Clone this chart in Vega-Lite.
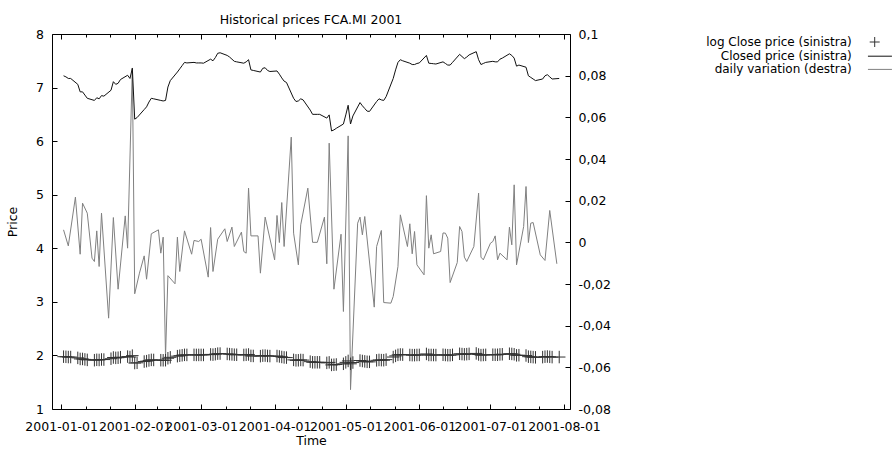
{
  "$schema": "https://vega.github.io/schema/vega-lite/v6.json",
  "width": 518,
  "height": 375,
  "autosize": {"type": "none"},
  "padding": {"left": 52, "top": 34, "right": 322, "bottom": 40},
  "config": {
    "font": "DejaVu Sans",
    "view": {"stroke": "#000", "strokeWidth": 1},
    "axis": {"domain": false, "grid": false, "labelFont": "DejaVu Sans", "labelFontSize": 12.5, "labelColor": "#000", "tickColor": "#000", "tickWidth": 1, "tickSize": -5, "titleFont": "DejaVu Sans", "titleFontSize": 12.5, "titleFontWeight": "normal", "titleColor": "#000", "labelOverlap": false, "labelFlush": false, "labelBound": false},
    "legend": {"orient": "none", "legendX": 816.7, "legendY": 2, "labelFont": "DejaVu Sans", "labelFontSize": 12, "labelColor": "#000", "labelAlign": "right", "labelOffset": -29, "labelLimit": 400, "symbolSize": 100, "symbolStrokeWidth": 1, "rowPadding": 1.2, "padding": 0, "symbolFillColor": "transparent"}
  },
  "title": {"text": "Historical prices FCA.MI 2001", "frame": "group", "anchor": "middle", "baseline": "alphabetic", "offset": -8, "font": "DejaVu Sans", "fontSize": 12.5, "fontWeight": "normal", "color": "#000"},
  "datasets": {
    "variation": [
      {"date": "2001-01-02", "variation": 0.006}, {"date": "2001-01-04", "variation": -0.0017}, {"date": "2001-01-07", "variation": 0.0217}, {"date": "2001-01-09", "variation": -0.0057}, {"date": "2001-01-10", "variation": 0.0188}, {"date": "2001-01-12", "variation": 0.014}, {"date": "2001-01-14", "variation": -0.0076}, {"date": "2001-01-15", "variation": -0.0092}, {"date": "2001-01-16", "variation": 0.0055}, {"date": "2001-01-17", "variation": -0.0116}, {"date": "2001-01-18", "variation": 0.014}, {"date": "2001-01-21", "variation": -0.0364}, {"date": "2001-01-23", "variation": 0.0119}, {"date": "2001-01-25", "variation": -0.0225}, {"date": "2001-01-28", "variation": 0.0127}, {"date": "2001-01-29", "variation": -0.0028}, {"date": "2001-01-31", "variation": 0.0837},
      {"date": "2001-02-01", "variation": -0.0247}, {"date": "2001-02-03", "variation": -0.0148}, {"date": "2001-02-05", "variation": -0.0065}, {"date": "2001-02-06", "variation": -0.0177}, {"date": "2001-02-08", "variation": 0.0041}, {"date": "2001-02-11", "variation": 0.006}, {"date": "2001-02-12", "variation": -0.0052}, {"date": "2001-02-13", "variation": 0.0025}, {"date": "2001-02-14", "variation": -0.0548}, {"date": "2001-02-15", "variation": -0.016}, {"date": "2001-02-18", "variation": -0.0199}, {"date": "2001-02-19", "variation": 0.0025}, {"date": "2001-02-20", "variation": -0.014}, {"date": "2001-02-22", "variation": 0.0055}, {"date": "2001-02-25", "variation": -0.0057}, {"date": "2001-02-26", "variation": 0.0009}, {"date": "2001-02-28", "variation": 0.0004},
      {"date": "2001-03-01", "variation": 0.0015}, {"date": "2001-03-04", "variation": -0.0167}, {"date": "2001-03-05", "variation": 0.0071}, {"date": "2001-03-06", "variation": -0.014}, {"date": "2001-03-08", "variation": 0.0015}, {"date": "2001-03-11", "variation": 0.0065}, {"date": "2001-03-12", "variation": 0.0004}, {"date": "2001-03-14", "variation": 0.0073}, {"date": "2001-03-15", "variation": -0.002}, {"date": "2001-03-18", "variation": 0.0049}, {"date": "2001-03-19", "variation": -0.0044}, {"date": "2001-03-20", "variation": -0.0052}, {"date": "2001-03-21", "variation": 0.026}, {"date": "2001-03-22", "variation": 0.0031}, {"date": "2001-03-25", "variation": 0.0031}, {"date": "2001-03-26", "variation": -0.0148}, {"date": "2001-03-28", "variation": 0.0121},
      {"date": "2001-04-01", "variation": -0.0084}, {"date": "2001-04-02", "variation": 0.0129}, {"date": "2001-04-03", "variation": -0.0001}, {"date": "2001-04-04", "variation": 0.0191}, {"date": "2001-04-05", "variation": -0.002}, {"date": "2001-04-08", "variation": 0.0505}, {"date": "2001-04-09", "variation": 0.0044}, {"date": "2001-04-11", "variation": -0.0108}, {"date": "2001-04-12", "variation": 0.0084}, {"date": "2001-04-15", "variation": 0.026}, {"date": "2001-04-17", "variation": 0}, {"date": "2001-04-19", "variation": 0}, {"date": "2001-04-22", "variation": 0.0121}, {"date": "2001-04-23", "variation": -0.0103}, {"date": "2001-04-24", "variation": 0.0476}, {"date": "2001-04-26", "variation": -0.0225}, {"date": "2001-04-29", "variation": 0.0039}, {"date": "2001-04-30", "variation": -0.0332},
      {"date": "2001-05-02", "variation": 0.0511}, {"date": "2001-05-03", "variation": -0.0707}, {"date": "2001-05-06", "variation": 0.0092}, {"date": "2001-05-07", "variation": 0.0121}, {"date": "2001-05-08", "variation": 0.0036}, {"date": "2001-05-09", "variation": 0.0124}, {"date": "2001-05-13", "variation": -0.0311}, {"date": "2001-05-14", "variation": -0.002}, {"date": "2001-05-16", "variation": 0.0057}, {"date": "2001-05-17", "variation": -0.0289}, {"date": "2001-05-20", "variation": -0.0292}, {"date": "2001-05-21", "variation": -0.026}, {"date": "2001-05-23", "variation": -0.0116}, {"date": "2001-05-24", "variation": 0.0132}, {"date": "2001-05-27", "variation": -0.002}, {"date": "2001-05-28", "variation": 0.0089}, {"date": "2001-05-29", "variation": -0.0055}, {"date": "2001-05-30", "variation": 0.0052}, {"date": "2001-05-31", "variation": -0.0108},
      {"date": "2001-06-03", "variation": -0.0156}, {"date": "2001-06-04", "variation": 0.0224}, {"date": "2001-06-05", "variation": -0.0028}, {"date": "2001-06-06", "variation": 0.0036}, {"date": "2001-06-07", "variation": -0.0055}, {"date": "2001-06-10", "variation": -0.0044}, {"date": "2001-06-11", "variation": 0.0045}, {"date": "2001-06-12", "variation": 0.0044}, {"date": "2001-06-13", "variation": 0.002}, {"date": "2001-06-14", "variation": -0.0193}, {"date": "2001-06-17", "variation": -0.0097}, {"date": "2001-06-18", "variation": 0.0076}, {"date": "2001-06-19", "variation": 0.0052}, {"date": "2001-06-20", "variation": -0.0071}, {"date": "2001-06-21", "variation": -0.0092}, {"date": "2001-06-24", "variation": -0.002}, {"date": "2001-06-26", "variation": 0.0236}, {"date": "2001-06-27", "variation": -0.0071}, {"date": "2001-06-28", "variation": -0.0084},
      {"date": "2001-07-01", "variation": -0.0004}, {"date": "2001-07-02", "variation": 0.0004}, {"date": "2001-07-03", "variation": 0.0031}, {"date": "2001-07-04", "variation": -0.0084}, {"date": "2001-07-05", "variation": -0.0052}, {"date": "2001-07-08", "variation": -0.0084}, {"date": "2001-07-09", "variation": 0.0073}, {"date": "2001-07-10", "variation": -0.0012}, {"date": "2001-07-11", "variation": 0.0276}, {"date": "2001-07-12", "variation": -0.0108}, {"date": "2001-07-15", "variation": 0.0076}, {"date": "2001-07-16", "variation": 0.0268}, {"date": "2001-07-17", "variation": -0.0001}, {"date": "2001-07-18", "variation": 0.0092}, {"date": "2001-07-19", "variation": 0.0095}, {"date": "2001-07-22", "variation": -0.006}, {"date": "2001-07-24", "variation": -0.0087}, {"date": "2001-07-26", "variation": 0.0153}, {"date": "2001-07-29", "variation": -0.0103}
    ],
    "prices": [
      {"date": "2001-01-02", "price": 7.22, "logprice": 1.9769}, {"date": "2001-01-03", "price": 7.2, "logprice": 1.9741}, {"date": "2001-01-04", "price": 7.17, "logprice": 1.9699}, {"date": "2001-01-05", "price": 7.17, "logprice": 1.9699},
      {"date": "2001-01-08", "price": 7.06, "logprice": 1.9544}, {"date": "2001-01-09", "price": 6.92, "logprice": 1.9344}, {"date": "2001-01-10", "price": 6.92, "logprice": 1.9344}, {"date": "2001-01-11", "price": 6.86, "logprice": 1.9257}, {"date": "2001-01-12", "price": 6.8, "logprice": 1.9169},
      {"date": "2001-01-15", "price": 6.76, "logprice": 1.911}, {"date": "2001-01-16", "price": 6.81, "logprice": 1.9184}, {"date": "2001-01-17", "price": 6.79, "logprice": 1.9154}, {"date": "2001-01-18", "price": 6.85, "logprice": 1.9242}, {"date": "2001-01-19", "price": 6.84, "logprice": 1.9228},
      {"date": "2001-01-22", "price": 6.95, "logprice": 1.9387}, {"date": "2001-01-23", "price": 7.11, "logprice": 1.9615}, {"date": "2001-01-24", "price": 7.06, "logprice": 1.9544}, {"date": "2001-01-25", "price": 7.08, "logprice": 1.9573}, {"date": "2001-01-26", "price": 7.15, "logprice": 1.9671},
      {"date": "2001-01-29", "price": 7.23, "logprice": 1.9783}, {"date": "2001-01-30", "price": 7.17, "logprice": 1.9699}, {"date": "2001-01-31", "price": 7.36, "logprice": 1.9961}, {"date": "2001-02-01", "price": 6.41, "logprice": 1.8579}, {"date": "2001-02-02", "price": 6.44, "logprice": 1.8625},
      {"date": "2001-02-05", "price": 6.59, "logprice": 1.8856}, {"date": "2001-02-06", "price": 6.64, "logprice": 1.8931}, {"date": "2001-02-07", "price": 6.73, "logprice": 1.9065}, {"date": "2001-02-08", "price": 6.8, "logprice": 1.9169}, {"date": "2001-02-09", "price": 6.79, "logprice": 1.9154},
      {"date": "2001-02-12", "price": 6.76, "logprice": 1.911}, {"date": "2001-02-13", "price": 6.75, "logprice": 1.9095}, {"date": "2001-02-14", "price": 6.76, "logprice": 1.911}, {"date": "2001-02-15", "price": 7.01, "logprice": 1.9473}, {"date": "2001-02-16", "price": 7.13, "logprice": 1.9643},
      {"date": "2001-02-19", "price": 7.29, "logprice": 1.9865}, {"date": "2001-02-20", "price": 7.35, "logprice": 1.9947}, {"date": "2001-02-21", "price": 7.41, "logprice": 2.0028}, {"date": "2001-02-22", "price": 7.47, "logprice": 2.0109}, {"date": "2001-02-23", "price": 7.46, "logprice": 2.0096},
      {"date": "2001-02-26", "price": 7.47, "logprice": 2.0109}, {"date": "2001-02-27", "price": 7.46, "logprice": 2.0096}, {"date": "2001-02-28", "price": 7.46, "logprice": 2.0096}, {"date": "2001-03-01", "price": 7.46, "logprice": 2.0096}, {"date": "2001-03-02", "price": 7.455, "logprice": 2.0089},
      {"date": "2001-03-05", "price": 7.53, "logprice": 2.0189}, {"date": "2001-03-06", "price": 7.5, "logprice": 2.0149}, {"date": "2001-03-07", "price": 7.56, "logprice": 2.0228}, {"date": "2001-03-08", "price": 7.64, "logprice": 2.0333}, {"date": "2001-03-09", "price": 7.65, "logprice": 2.0347},
      {"date": "2001-03-12", "price": 7.6, "logprice": 2.0281}, {"date": "2001-03-13", "price": 7.57, "logprice": 2.0241}, {"date": "2001-03-14", "price": 7.53, "logprice": 2.0189}, {"date": "2001-03-15", "price": 7.49, "logprice": 2.0136}, {"date": "2001-03-16", "price": 7.48, "logprice": 2.0122},
      {"date": "2001-03-19", "price": 7.455, "logprice": 2.0089}, {"date": "2001-03-20", "price": 7.48, "logprice": 2.0122}, {"date": "2001-03-21", "price": 7.52, "logprice": 2.0176}, {"date": "2001-03-22", "price": 7.33, "logprice": 1.992}, {"date": "2001-03-23", "price": 7.32, "logprice": 1.9906},
      {"date": "2001-03-26", "price": 7.29, "logprice": 1.9865}, {"date": "2001-03-27", "price": 7.36, "logprice": 1.9961}, {"date": "2001-03-28", "price": 7.37, "logprice": 1.9974}, {"date": "2001-03-29", "price": 7.32, "logprice": 1.9906}, {"date": "2001-03-30", "price": 7.3, "logprice": 1.9879},
      {"date": "2001-04-02", "price": 7.31, "logprice": 1.9892}, {"date": "2001-04-03", "price": 7.25, "logprice": 1.981}, {"date": "2001-04-04", "price": 7.18, "logprice": 1.9713}, {"date": "2001-04-05", "price": 7.12, "logprice": 1.9629}, {"date": "2001-04-06", "price": 7.095, "logprice": 1.9594},
      {"date": "2001-04-09", "price": 6.8, "logprice": 1.9169}, {"date": "2001-04-10", "price": 6.74, "logprice": 1.9081}, {"date": "2001-04-11", "price": 6.75, "logprice": 1.9095}, {"date": "2001-04-12", "price": 6.79, "logprice": 1.9154}, {"date": "2001-04-13", "price": 6.77, "logprice": 1.9125},
      {"date": "2001-04-16", "price": 6.58, "logprice": 1.884}, {"date": "2001-04-17", "price": 6.5, "logprice": 1.8718}, {"date": "2001-04-18", "price": 6.5, "logprice": 1.8718}, {"date": "2001-04-19", "price": 6.5, "logprice": 1.8718}, {"date": "2001-04-20", "price": 6.5, "logprice": 1.8718},
      {"date": "2001-04-23", "price": 6.43, "logprice": 1.861}, {"date": "2001-04-24", "price": 6.49, "logprice": 1.8703}, {"date": "2001-04-25", "price": 6.19, "logprice": 1.8229}, {"date": "2001-04-26", "price": 6.21, "logprice": 1.8261}, {"date": "2001-04-27", "price": 6.24, "logprice": 1.831},
      {"date": "2001-04-30", "price": 6.32, "logprice": 1.8436}, {"date": "2001-05-01", "price": 6.49, "logprice": 1.8703}, {"date": "2001-05-02", "price": 6.67, "logprice": 1.8976}, {"date": "2001-05-03", "price": 6.32, "logprice": 1.8436}, {"date": "2001-05-04", "price": 6.47, "logprice": 1.8672},
      {"date": "2001-05-07", "price": 6.72, "logprice": 1.9051}, {"date": "2001-05-08", "price": 6.66, "logprice": 1.8961}, {"date": "2001-05-09", "price": 6.61, "logprice": 1.8886}, {"date": "2001-05-10", "price": 6.56, "logprice": 1.881}, {"date": "2001-05-11", "price": 6.555, "logprice": 1.8802},
      {"date": "2001-05-14", "price": 6.74, "logprice": 1.9081}, {"date": "2001-05-15", "price": 6.79, "logprice": 1.9154}, {"date": "2001-05-16", "price": 6.77, "logprice": 1.9125}, {"date": "2001-05-17", "price": 6.76, "logprice": 1.911}, {"date": "2001-05-18", "price": 6.83, "logprice": 1.9213},
      {"date": "2001-05-21", "price": 7.17, "logprice": 1.9699}, {"date": "2001-05-22", "price": 7.33, "logprice": 1.992}, {"date": "2001-05-23", "price": 7.47, "logprice": 2.0109}, {"date": "2001-05-24", "price": 7.52, "logprice": 2.0176}, {"date": "2001-05-25", "price": 7.5, "logprice": 2.0149},
      {"date": "2001-05-28", "price": 7.455, "logprice": 2.0089}, {"date": "2001-05-29", "price": 7.43, "logprice": 2.0055}, {"date": "2001-05-30", "price": 7.43, "logprice": 2.0055}, {"date": "2001-05-31", "price": 7.45, "logprice": 2.0082}, {"date": "2001-06-01", "price": 7.46, "logprice": 2.0096},
      {"date": "2001-06-04", "price": 7.6, "logprice": 2.0281}, {"date": "2001-06-05", "price": 7.455, "logprice": 2.0089}, {"date": "2001-06-06", "price": 7.45, "logprice": 2.0082}, {"date": "2001-06-07", "price": 7.445, "logprice": 2.0075}, {"date": "2001-06-08", "price": 7.44, "logprice": 2.0069},
      {"date": "2001-06-11", "price": 7.48, "logprice": 2.0122}, {"date": "2001-06-12", "price": 7.45, "logprice": 2.0082}, {"date": "2001-06-13", "price": 7.42, "logprice": 2.0042}, {"date": "2001-06-14", "price": 7.42, "logprice": 2.0042}, {"date": "2001-06-15", "price": 7.47, "logprice": 2.0109},
      {"date": "2001-06-18", "price": 7.62, "logprice": 2.0307}, {"date": "2001-06-19", "price": 7.58, "logprice": 2.0255}, {"date": "2001-06-20", "price": 7.54, "logprice": 2.0202}, {"date": "2001-06-21", "price": 7.57, "logprice": 2.0241}, {"date": "2001-06-22", "price": 7.61, "logprice": 2.0294},
      {"date": "2001-06-25", "price": 7.67, "logprice": 2.0373}, {"date": "2001-06-26", "price": 7.52, "logprice": 2.0176}, {"date": "2001-06-27", "price": 7.43, "logprice": 2.0055}, {"date": "2001-06-28", "price": 7.45, "logprice": 2.0082}, {"date": "2001-06-29", "price": 7.47, "logprice": 2.0109},
      {"date": "2001-07-02", "price": 7.49, "logprice": 2.0136}, {"date": "2001-07-03", "price": 7.48, "logprice": 2.0122}, {"date": "2001-07-04", "price": 7.48, "logprice": 2.0122}, {"date": "2001-07-05", "price": 7.53, "logprice": 2.0189}, {"date": "2001-07-06", "price": 7.55, "logprice": 2.0215},
      {"date": "2001-07-09", "price": 7.63, "logprice": 2.032}, {"date": "2001-07-10", "price": 7.6, "logprice": 2.0281}, {"date": "2001-07-11", "price": 7.55, "logprice": 2.0215}, {"date": "2001-07-12", "price": 7.4, "logprice": 2.0015}, {"date": "2001-07-13", "price": 7.42, "logprice": 2.0042},
      {"date": "2001-07-16", "price": 7.38, "logprice": 1.9988}, {"date": "2001-07-17", "price": 7.22, "logprice": 1.9769}, {"date": "2001-07-18", "price": 7.19, "logprice": 1.9727}, {"date": "2001-07-19", "price": 7.16, "logprice": 1.9685}, {"date": "2001-07-20", "price": 7.13, "logprice": 1.9643},
      {"date": "2001-07-23", "price": 7.16, "logprice": 1.9685}, {"date": "2001-07-24", "price": 7.22, "logprice": 1.9769}, {"date": "2001-07-25", "price": 7.24, "logprice": 1.9796}, {"date": "2001-07-26", "price": 7.2, "logprice": 1.9741}, {"date": "2001-07-27", "price": 7.16, "logprice": 1.9685},
      {"date": "2001-07-30", "price": 7.17, "logprice": 1.9699}
    ]
  },
  "resolve": {"scale": {"y": "independent"}},
  "layer": [
    {
      "data": {"name": "variation"},
      "mark": {"type": "line", "strokeWidth": 1},
      "encoding": {
        "x": {"field": "date", "type": "temporal",
          "scale": {"type": "utc", "nice": false, "domain": [{"year": 2000, "month": 12, "date": 28, "hours": 3, "utc": true}, {"year": 2001, "month": 8, "date": 3, "hours": 13, "utc": true}]},
          "axis": {"orient": "bottom", "title": "Time", "titlePadding": 2, "tickSize": -5, "labelPadding": 16,
            "values": [{"year": 2001, "month": 1, "date": 1, "utc": true}, {"year": 2001, "month": 2, "date": 1, "utc": true}, {"year": 2001, "month": 3, "date": 1, "utc": true}, {"year": 2001, "month": 4, "date": 1, "utc": true}, {"year": 2001, "month": 5, "date": 1, "utc": true}, {"year": 2001, "month": 6, "date": 1, "utc": true}, {"year": 2001, "month": 7, "date": 1, "utc": true}, {"year": 2001, "month": 8, "date": 1, "utc": true}],
            "labelExpr": "utcFormat(datum.value, '%Y-%m-%d')"}},
        "y": {"field": "variation", "type": "quantitative",
          "scale": {"domain": [-0.08, 0.1], "nice": false, "zero": false},
          "axis": {"orient": "right", "title": null, "tickSize": -5, "labelPadding": 13,
            "values": [-0.08, -0.06, -0.04, -0.02, 0, 0.02, 0.04, 0.06, 0.08, 0.1],
            "labelExpr": "(datum.value < -0.00001 ? '-' : '') + replace(format(abs(datum.value), '.2~f'), '.', ',')"}},
        "color": {"datum": "daily variation  (destra)", "type": "nominal",
          "scale": {"domain": ["log Close price (sinistra)", "Closed price (sinistra)", "daily variation  (destra)"], "range": ["#333333", "#111111", "#808080"]},
          "legend": {"title": null}}
      }
    },
    {
      "data": {"name": "prices"},
      "mark": {"type": "line", "strokeWidth": 1},
      "encoding": {
        "x": {"field": "date", "type": "temporal",
          "scale": {"type": "utc", "nice": false, "domain": [{"year": 2000, "month": 12, "date": 28, "hours": 3, "utc": true}, {"year": 2001, "month": 8, "date": 3, "hours": 13, "utc": true}]},
          "axis": {"orient": "top", "title": null, "labels": false, "tickSize": -5,
            "values": [{"year": 2001, "month": 1, "date": 1, "utc": true}, {"year": 2001, "month": 2, "date": 1, "utc": true}, {"year": 2001, "month": 3, "date": 1, "utc": true}, {"year": 2001, "month": 4, "date": 1, "utc": true}, {"year": 2001, "month": 5, "date": 1, "utc": true}, {"year": 2001, "month": 6, "date": 1, "utc": true}, {"year": 2001, "month": 7, "date": 1, "utc": true}, {"year": 2001, "month": 8, "date": 1, "utc": true}]}},
        "y": {"field": "price", "type": "quantitative",
          "scale": {"domain": [1, 8], "nice": false, "zero": false},
          "axis": {"orient": "left", "title": "Price", "titlePadding": 16, "tickSize": -5, "labelPadding": 13.5, "values": [1, 2, 3, 4, 5, 6, 7, 8], "format": "d"}},
        "color": {"datum": "Closed price (sinistra)", "type": "nominal",
          "scale": {"domain": ["log Close price (sinistra)", "Closed price (sinistra)", "daily variation  (destra)"], "range": ["#333333", "#111111", "#808080"]},
          "legend": {"title": null}}
      }
    },
    {
      "data": {"name": "prices"},
      "mark": {"type": "point", "filled": false, "size": 156, "strokeWidth": 1, "opacity": 1},
      "encoding": {
        "x": {"field": "date", "type": "temporal",
          "scale": {"type": "utc", "nice": false, "domain": [{"year": 2000, "month": 12, "date": 28, "hours": 3, "utc": true}, {"year": 2001, "month": 8, "date": 3, "hours": 13, "utc": true}]},
          "axis": {"orient": "bottom", "title": null, "labels": false, "tickSize": -3,
            "values": [{"year": 2001, "month": 1, "date": 11, "hours": 8, "utc": true}, {"year": 2001, "month": 1, "date": 21, "hours": 16, "utc": true}, {"year": 2001, "month": 2, "date": 10, "hours": 8, "utc": true}, {"year": 2001, "month": 2, "date": 19, "hours": 16, "utc": true}, {"year": 2001, "month": 3, "date": 11, "hours": 8, "utc": true}, {"year": 2001, "month": 3, "date": 21, "hours": 16, "utc": true}, {"year": 2001, "month": 4, "date": 11, "utc": true}, {"year": 2001, "month": 4, "date": 21, "utc": true}, {"year": 2001, "month": 5, "date": 11, "hours": 8, "utc": true}, {"year": 2001, "month": 5, "date": 21, "hours": 16, "utc": true}, {"year": 2001, "month": 6, "date": 11, "utc": true}, {"year": 2001, "month": 6, "date": 21, "utc": true}, {"year": 2001, "month": 7, "date": 11, "hours": 8, "utc": true}, {"year": 2001, "month": 7, "date": 21, "hours": 16, "utc": true}]}},
        "y": {"field": "logprice", "type": "quantitative", "scale": {"domain": [1, 8], "nice": false, "zero": false}, "axis": null},
        "color": {"datum": "log Close price (sinistra)", "type": "nominal",
          "scale": {"domain": ["log Close price (sinistra)", "Closed price (sinistra)", "daily variation  (destra)"], "range": ["#333333", "#111111", "#808080"]},
          "legend": {"title": null}},
        "shape": {"datum": "log Close price (sinistra)", "type": "nominal",
          "scale": {"domain": ["log Close price (sinistra)", "Closed price (sinistra)", "daily variation  (destra)"], "range": ["M-1,0H1M0,-1V1", "M-1.35,0H3.45", "M-1.35,0H3.45"]},
          "legend": {"title": null}}
      }
    },
    {
      "data": {"name": "prices"},
      "mark": {"type": "point", "opacity": 0, "size": 1},
      "encoding": {
        "x": {"field": "date", "type": "temporal",
          "scale": {"type": "utc", "nice": false, "domain": [{"year": 2000, "month": 12, "date": 28, "hours": 3, "utc": true}, {"year": 2001, "month": 8, "date": 3, "hours": 13, "utc": true}]},
          "axis": {"orient": "top", "title": null, "labels": false, "tickSize": -3,
            "values": [{"year": 2001, "month": 1, "date": 11, "hours": 8, "utc": true}, {"year": 2001, "month": 1, "date": 21, "hours": 16, "utc": true}, {"year": 2001, "month": 2, "date": 10, "hours": 8, "utc": true}, {"year": 2001, "month": 2, "date": 19, "hours": 16, "utc": true}, {"year": 2001, "month": 3, "date": 11, "hours": 8, "utc": true}, {"year": 2001, "month": 3, "date": 21, "hours": 16, "utc": true}, {"year": 2001, "month": 4, "date": 11, "utc": true}, {"year": 2001, "month": 4, "date": 21, "utc": true}, {"year": 2001, "month": 5, "date": 11, "hours": 8, "utc": true}, {"year": 2001, "month": 5, "date": 21, "hours": 16, "utc": true}, {"year": 2001, "month": 6, "date": 11, "utc": true}, {"year": 2001, "month": 6, "date": 21, "utc": true}, {"year": 2001, "month": 7, "date": 11, "hours": 8, "utc": true}, {"year": 2001, "month": 7, "date": 21, "hours": 16, "utc": true}]}},
        "y": {"field": "price", "type": "quantitative", "scale": {"domain": [1, 8], "nice": false, "zero": false}, "axis": null}
      }
    }
  ]
}
